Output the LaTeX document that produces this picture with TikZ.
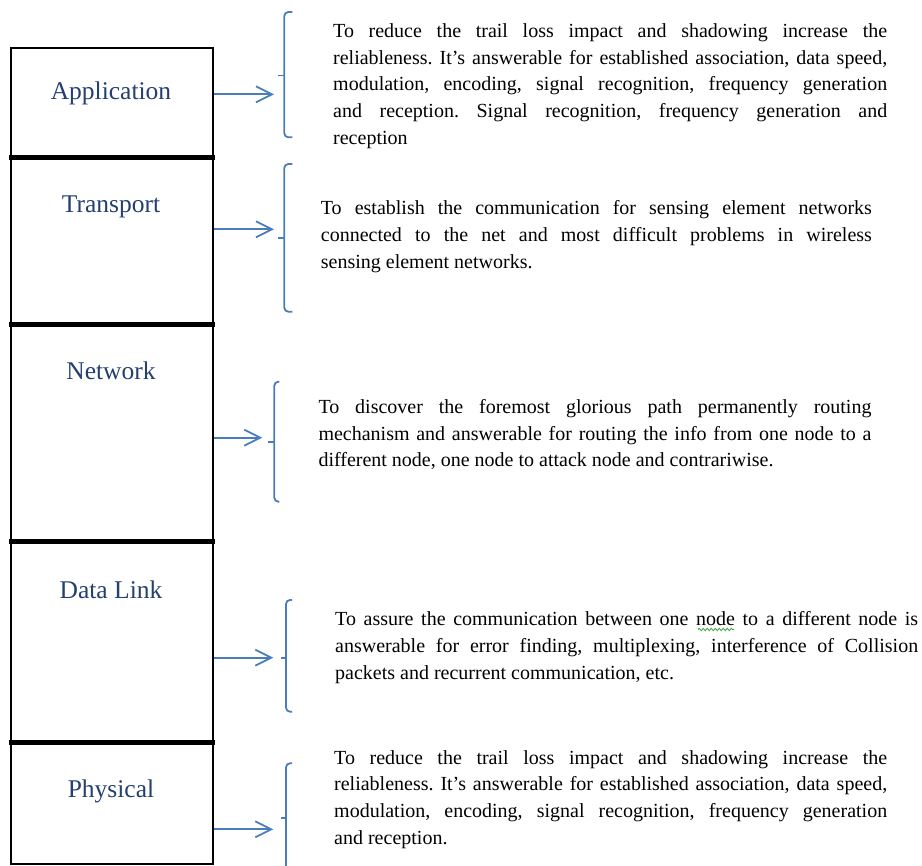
\documentclass[tikz,border=0pt]{standalone}
\usepackage{fontspec}
\setmainfont{Liberation Serif}
\usetikzlibrary{arrows.meta,decorations.pathmorphing}

\definecolor{layerblue}{HTML}{23406E}
\definecolor{linkblue}{HTML}{4A7EBB}
\definecolor{wavegreen}{HTML}{3FA03F}

\hyphenpenalty=10000
\exhyphenpenalty=10000
\tolerance=10000
\frenchspacing

% bracket: x, top, middle, bottom, hook length, tick length
\newcommand\layerbrace[6]{%
  \draw[bracket] (#1+#5,#2) -- (#1,#2) -- (#1,#4) -- (#1+#5,#4);
  \draw[bracket] (#1,#3) -- (#1-#6,#3);
}

\tikzset{
  layerbox/.style={draw=black, line width=2pt, minimum width=202pt,
    inner sep=0pt, anchor=north west},
  band/.style={draw=black, line width=5pt},
  layername/.style={anchor=base, inner sep=0pt, text=layerblue,
    font=\fontsize{25.5}{30}\selectfont},
  link/.style={draw=linkblue, line width=1.8pt,
    -{Straight Barb[length=16pt,width=16pt]}},
  bracket/.style={draw=linkblue, line width=1.8pt, rounded corners=4pt},
  desc/.style={anchor=base west, inner sep=0pt, align=justify,
    font=\fontsize{20}{26.75}\selectfont},
  grammarwave/.style={draw=wavegreen, line width=0.8pt, decorate,
    decoration={snake, amplitude=1.2pt, segment length=4pt}},
}

\begin{document}
\begin{tikzpicture}[x=1pt, y=-1pt]
\useasboundingbox (0,0) rectangle (922,866);

% layer stack
\node[layerbox, minimum height=109.1pt] (app) at (10,46.7) {};
\node[layerbox, minimum height=167pt]   (tra) at (10,155.8) {};
\node[layerbox, minimum height=216.9pt] (net) at (10,322.8) {};
\node[layerbox, minimum height=201.1pt] (dl)  at (10,539.7) {};
\node[layerbox, minimum height=122.5pt] (phy) at (10,740.8) {};

\draw[band] ([xshift=-1pt]app.south west) -- ([xshift=1pt]app.south east);
\draw[band] ([xshift=-1pt]tra.south west) -- ([xshift=1pt]tra.south east);
\draw[band] ([xshift=-1pt]net.south west) -- ([xshift=1pt]net.south east);
\draw[band] ([xshift=-1pt]dl.south west)  -- ([xshift=1pt]dl.south east);

\node[layername] (appName) at (111,100)   {Application};
\node[layername] (traName) at (111,212.3) {Transport};
\node[layername] (netName) at (111,379.3) {Network};
\node[layername] (dlName)  at (111,598.5) {Data Link};
\node[layername] (phyName) at (111,797)   {Physical};

% arrow tips at the brackets
\coordinate (appTip) at (274,94.3);
\coordinate (traTip) at (274,229.3);
\coordinate (netTip) at (262.3,437.7);
\coordinate (dlTip)  at (273.3,657.7);
\coordinate (phyTip) at (273.3,829.3);

\draw[link] (app.east |- appTip) -- (appTip);
\draw[link] (tra.east |- traTip) -- (traTip);
\draw[link] (net.east |- netTip) -- (netTip);
\draw[link] (dl.east |- dlTip)   -- (dlTip);
\draw[link] (phy.east |- phyTip) -- (phyTip);

% brackets
\layerbrace{284.3}{12}{75.5}{137.3}{8}{6}
\layerbrace{284.3}{164}{238.3}{311.7}{8}{6}
\layerbrace{274.3}{381.7}{442.3}{501.7}{5}{6}
\layerbrace{286}{600}{657.7}{711.7}{6}{5}
\layerbrace{286}{763.3}{818.3}{885}{6}{5}

% descriptions
\node[desc, text width=554pt] (appText) at (333,37.3) {%
To reduce the trail loss impact and shadowing increase the\linebreak
reliableness. It’s answerable for established association, data speed,\linebreak
modulation, encoding, signal recognition, frequency generation\linebreak
and reception. Signal recognition, frequency generation and\linebreak
reception};

\node[desc, text width=551pt] (traText) at (320.7,215) {%
To establish the communication for sensing element networks\linebreak
connected to the net and most difficult problems in wireless\linebreak
sensing element networks.};

\node[desc, text width=553pt] (netText) at (318.3,413.3) {%
To discover the foremost glorious path permanently routing\linebreak
mechanism and answerable for routing the info from one node to a\linebreak
different node, one node to attack node and contrariwise.};

\node[desc, text width=583pt] (dlText) at (335,626) {%
To assure the communication between one node to a different node is\linebreak
answerable for error finding, multiplexing, interference of Collision\linebreak
packets and recurrent communication, etc.};

% grammar mark under the word "node"
\coordinate (waveStart) at (698,629.5);
\coordinate (waveEnd) at (734,629.5);
\draw[grammarwave] (waveStart) -- (waveEnd);

\node[desc, text width=553pt] (phyText) at (334,764) {%
To reduce the trail loss impact and shadowing increase the\linebreak
reliableness. It’s answerable for established association, data speed,\linebreak
modulation, encoding, signal recognition, frequency generation\linebreak
and reception.};
\end{tikzpicture}
\end{document}
